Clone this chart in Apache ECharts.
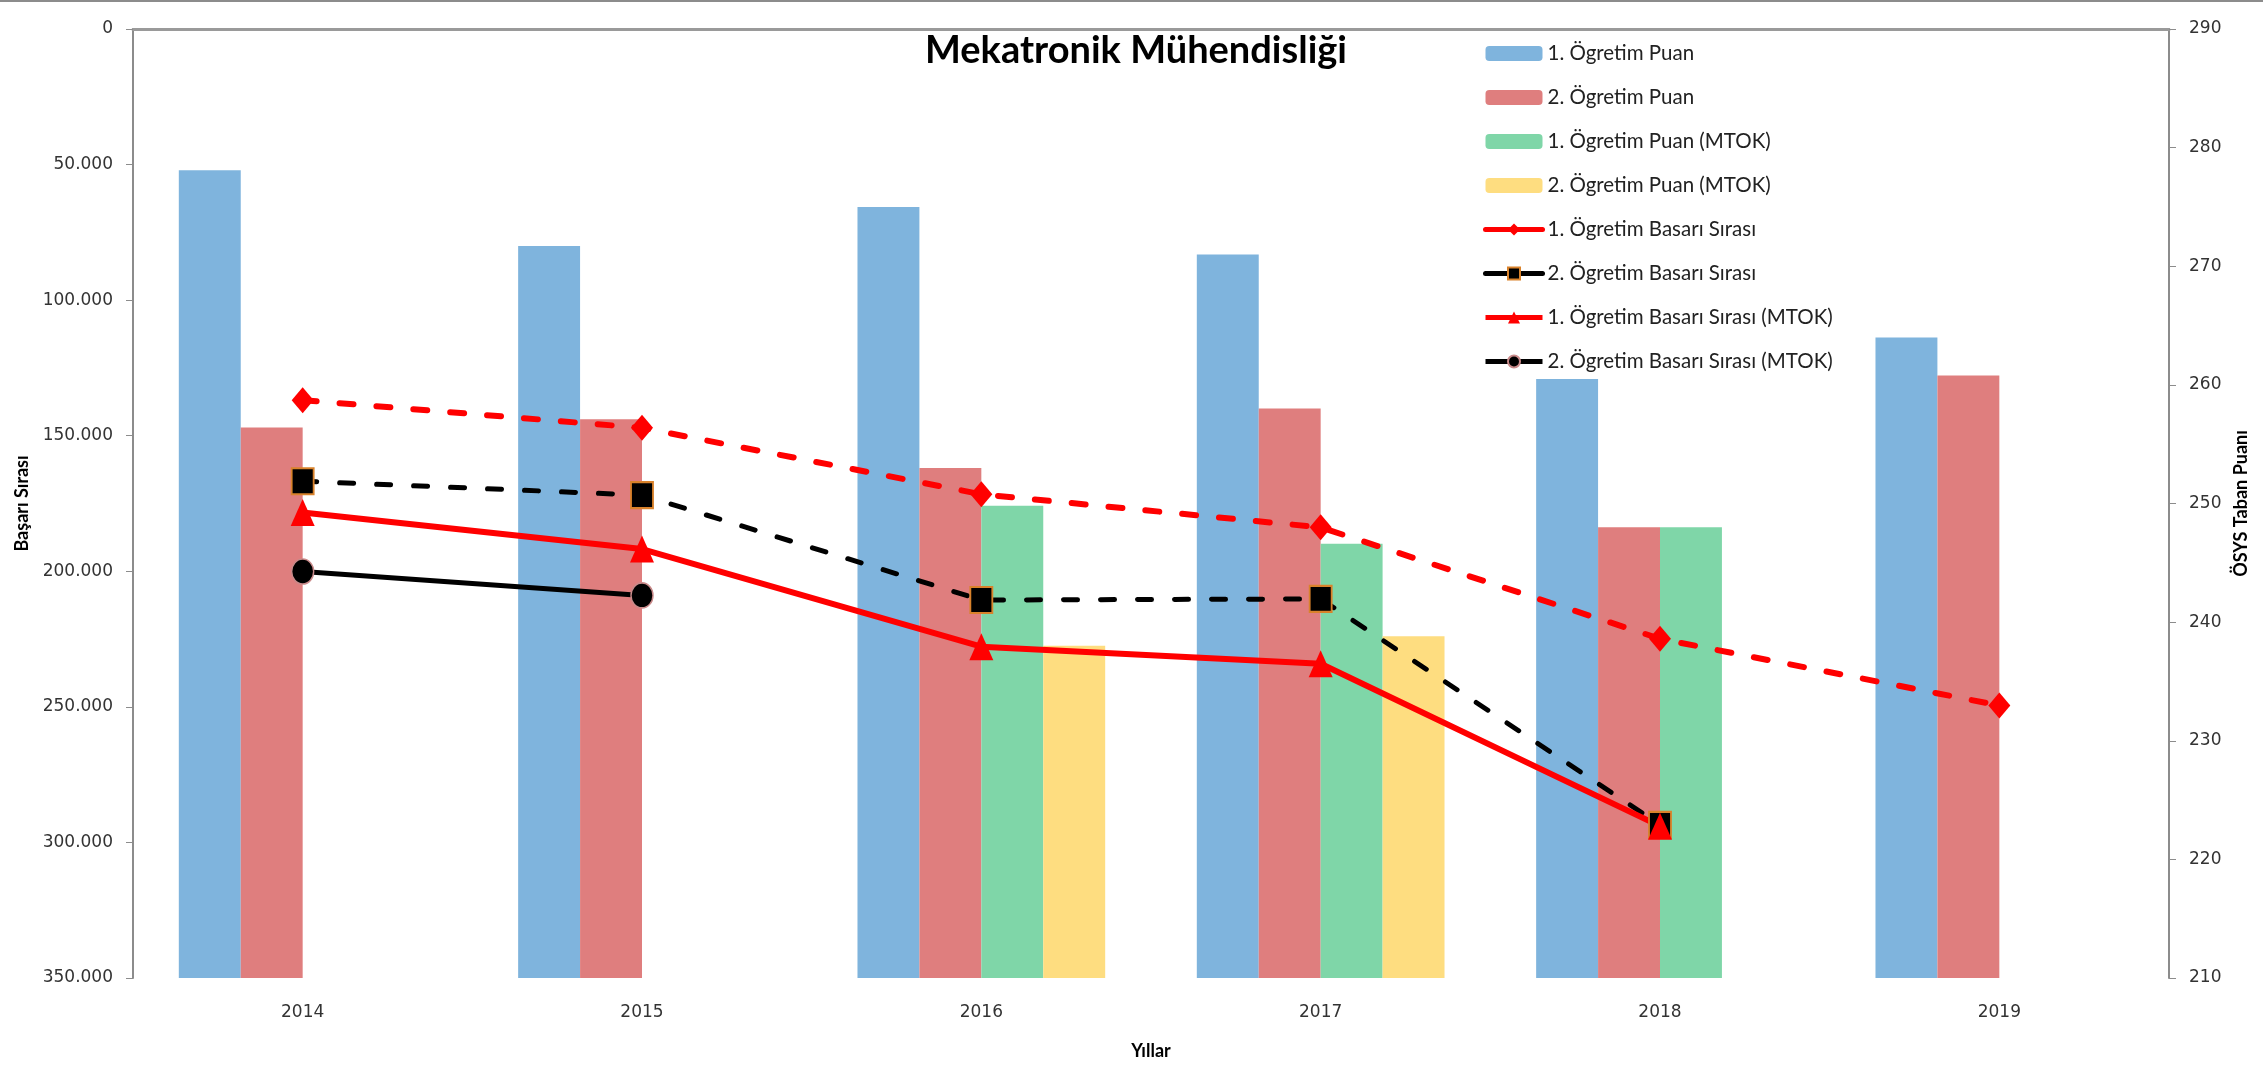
<!DOCTYPE html>
<html>
<head>
<meta charset="utf-8">
<script src="https://cdn.jsdelivr.net/npm/echarts@6/dist/echarts.min.js"></script>
<style>
  html, body { margin: 0; padding: 0; background: #ffffff; }
  #chart { width: 2263px; height: 1065px; }
</style>
</head>
<body>
<div id="chart"></div>
<script>
// Years on the category axis
const years = ['2014', '2015', '2016', '2017', '2018', '2019'];

// Base scores (right axis)
const puan1 = [278.1, 271.7, 275.0, 271.0, 260.5, 264.0];
const puan2 = [256.4, 257.1, 253.0, 258.0, 248.0, 260.8];
const puanMtok1 = [null, null, 249.8, 246.6, 248.0, null];
const puanMtok2 = [null, null, 238.0, 238.8, null, null];

// Success ranks (left axis, inverted)
const sira1 = [136900, 147100, 171600, 183800, 224900, 249500];
const sira2 = [166800, 171900, 210600, 210200, 293500, null];
const siraMtok1 = [178300, 191800, 227800, 234100, 294000, null];
const siraMtok2 = [200100, 208900, null, null, null, null];

// Series names
const names = [
  '1. Ögretim Puan',
  '2. Ögretim Puan',
  '1. Ögretim Puan (MTOK)',
  '2. Ögretim Puan (MTOK)',
  '1. Ögretim Basarı Sırası',
  '2. Ögretim Basarı Sırası',
  '1. Ögretim Basarı Sırası (MTOK)',
  '2. Ögretim Basarı Sırası (MTOK)'
];

const fmtRank = v => String(v).replace(/\B(?=(\d{3})+(?!\d))/g, '.');

const tickFont = { fontFamily: 'DejaVu Sans', fontSize: 17, color: '#333333' };
const nameFont = { fontFamily: 'Lato', fontWeight: 'bold', fontSize: 18, color: '#000000' };

function barSeries(name, data, color) {
  return {
    name: name, type: 'bar', yAxisIndex: 1, data: data,
    barGap: '0%', barCategoryGap: '27%',
    itemStyle: { color: color },
    z: 2
  };
}

function lineSeries(name, data, color, dashed, symbol, size, width, border) {
  return {
    name: name, type: 'line', yAxisIndex: 0, data: data,
    symbol: symbol, symbolSize: size,
    showAllSymbol: true, connectNulls: false,
    lineStyle: dashed
      ? { color: color, width: width, type: [14, 23], cap: 'round' }
      : { color: color, width: width, type: 'solid' },
    itemStyle: Object.assign({ color: color }, border || {}),
    z: 5
  };
}

const chart = echarts.init(document.getElementById('chart'));
chart.setOption({
  animation: false,
  backgroundColor: '#ffffff',
  title: {
    text: 'Mekatronik Mühendisliği',
    left: 1131, top: 27, textAlign: 'center',
    textStyle: { fontFamily: 'Lato', fontWeight: 'bold', fontSize: 38, color: '#000000' }
  },
  legend: {
    orient: 'vertical', left: 1478, top: 38,
    itemWidth: 57, itemHeight: 15, itemGap: 23,
    textStyle: { fontFamily: 'Lato', fontSize: 20.5, color: '#222222' },
    data: names.map((n, i) => i < 4 ? { name: n } : { name: n, lineStyle: { type: 'solid', width: 5 } })
  },
  grid: { left: 133, right: 94, top: 29, bottom: 85, containLabel: false },
  xAxis: {
    type: 'category', data: years,
    name: 'Yıllar', nameLocation: 'middle', nameGap: 64, nameTextStyle: nameFont,
    axisLine: { lineStyle: { color: '#9a9a9a', width: 3 } },
    axisTick: { alignWithLabel: false, length: 6, lineStyle: { color: '#9a9a9a', width: 1 } },
    axisLabel: Object.assign({ margin: 26 }, tickFont),
    splitLine: { show: false }
  },
  yAxis: [
    {
      type: 'value', position: 'left', inverse: true,
      min: 0, max: 350000, interval: 50000,
      name: 'Başarı Sırası', nameLocation: 'middle', nameGap: 102, nameTextStyle: nameFont,
      axisLine: { show: true, lineStyle: { color: '#8c8c8c', width: 2 } },
      axisTick: { show: true, length: 7, lineStyle: { color: '#8c8c8c', width: 1 } },
      axisLabel: Object.assign({ margin: 20, formatter: fmtRank }, tickFont),
      splitLine: { show: false }
    },
    {
      type: 'value', position: 'right',
      min: 210, max: 290, interval: 10, startValue: 210,
      name: 'ÖSYS Taban Puanı', nameLocation: 'middle', nameGap: 60, nameTextStyle: nameFont,
      axisLine: { show: true, lineStyle: { color: '#8c8c8c', width: 2 } },
      axisTick: { show: true, length: 7, lineStyle: { color: '#8c8c8c', width: 1 } },
      axisLabel: Object.assign({ margin: 20 }, tickFont),
      splitLine: { show: false }
    }
  ],
  series: [
    barSeries(names[0], puan1, '#7FB4DD'),
    barSeries(names[1], puan2, '#DF7E7E'),
    barSeries(names[2], puanMtok1, '#7FD6A8'),
    barSeries(names[3], puanMtok2, '#FEDD80'),
    lineSeries(names[4], sira1, '#FF0000', true, 'diamond', [22, 26], 6),
    lineSeries(names[5], sira2, '#000000', true, 'rect', [22, 26], 5,
      { borderColor: '#D9822B', borderWidth: 2 }),
    lineSeries(names[6], siraMtok1, '#FF0000', false, 'triangle', [24, 27], 6),
    lineSeries(names[7], siraMtok2, '#000000', false, 'circle', [22, 25], 5,
      { borderColor: '#C98A8A', borderWidth: 1.5 })
  ],
  graphic: [
    { type: 'line', shape: { x1: 0, y1: 1, x2: 2263, y2: 1 }, style: { stroke: '#8c8c8c', lineWidth: 2 } }
  ]
});
</script>
</body>
</html>
